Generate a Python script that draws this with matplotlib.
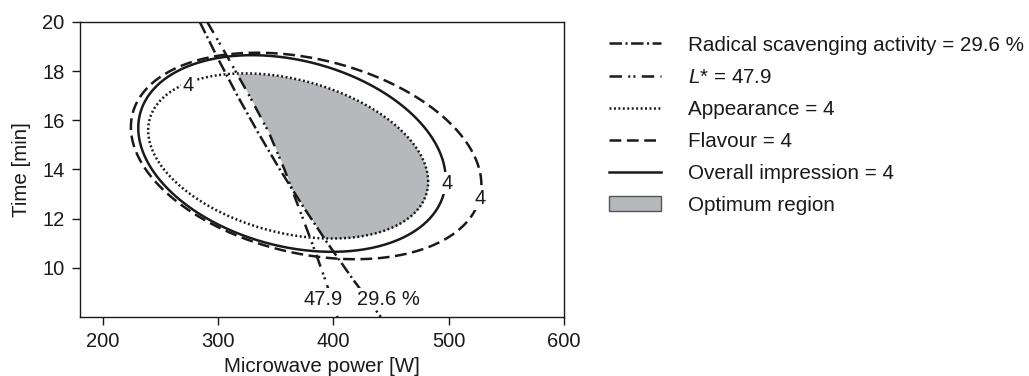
import numpy as np
import matplotlib
matplotlib.use('Agg')
import matplotlib.pyplot as plt
from matplotlib.lines import Line2D
from matplotlib.patches import Patch

plt.rcParams['font.family'] = ['Liberation Sans', 'DejaVu Sans']
plt.rcParams['mathtext.fontset'] = 'custom'
plt.rcParams['mathtext.rm'] = 'Liberation Sans'
plt.rcParams['mathtext.it'] = 'Liberation Sans:italic'
plt.rcParams['lines.scale_dashes'] = False

# contour lines (time [min] -> power [W])
radical_y = [20, 18.5, 17, 15.5, 14, 12.5, 11, 9.5, 8]
radical_x = [284, 299.9, 316.7, 334.6, 353.5, 373.6, 394.9, 417.4, 441.1]
lstar_y = [20, 18.5, 17, 15.5, 14, 12.5, 11, 9.5, 8]
lstar_x = [290.5, 309, 327, 344, 357.5, 369.5, 381.5, 393, 403.5]

# elliptic contours (= 4): centre x, centre y, half width, half height, tilt (cos phase)
appearance = [360.7, 14.55, 121.5, 3.36, -0.311]
flavour = [376.3, 14.55, 152.1, 4.2, -0.28]
overall = [364.0, 14.65, 133.4, 4.0, -0.26]

xticks = [200, 300, 400, 500, 600]
yticks = [10, 12, 14, 16, 18, 20]

ink = '#1a1a1a'
grey = '#b6b8bc'
lw = 1.8
st_radical = (0, (9, 2.5, 1.5, 2.5))
st_lstar = (0, (9, 4.5, 1.5, 2.2, 1.5, 4.5))
st_app = (0, (1.4, 1.8))
st_flav = (0, (8.5, 4))


def ellipse(p, n=600):
    cx, cy, rx, ry, cphi = p
    phi = np.arccos(cphi)
    t = np.linspace(0, 2 * np.pi, n)
    return cx + rx * np.cos(t), cy + ry * np.cos(t - phi)


def ellipse_bounds(p, y):
    cx, cy, rx, ry, cphi = p
    phi = np.arccos(cphi)
    a = np.arccos(np.clip((y - cy) / ry, -1, 1))
    x1 = cx + rx * np.cos(phi + a)
    x2 = cx + rx * np.cos(phi - a)
    return np.minimum(x1, x2), np.maximum(x1, x2)


fig = plt.figure(figsize=(10.29, 3.76), dpi=100)
ax = fig.add_axes([0.0777, 0.157, 0.4703, 0.7845])

# optimum region: inside appearance ellipse, right of both lines
yy = np.linspace(appearance[1] - appearance[3], appearance[1] + appearance[3], 800)
el, er = ellipse_bounds(appearance, yy)
lr = np.interp(yy, radical_y[::-1], radical_x[::-1])
ll = np.interp(yy, lstar_y[::-1], lstar_x[::-1])
left = np.maximum(el, np.maximum(lr, ll))
ax.fill_betweenx(yy, left, er, where=left < er, interpolate=True,
                 color=grey, lw=0, zorder=1)

ax.plot(*ellipse(appearance), color=ink, lw=lw, ls=st_app, zorder=2)
ax.plot(*ellipse(flavour), color=ink, lw=lw, ls=st_flav, zorder=2)
ax.plot(*ellipse(overall), color=ink, lw=lw, ls='-', zorder=2)
ax.plot(radical_x, radical_y, color=ink, lw=lw, ls=st_radical, zorder=3)
ax.plot(lstar_x, lstar_y, color=ink, lw=lw, ls=st_lstar, zorder=3)

box = dict(facecolor='white', edgecolor='none', pad=1.0)
lab = dict(fontsize=14.5, color=ink, ha='center', va='center', bbox=box, zorder=4)
ax.text(273.7, 17.4, '4', **lab)
ax.text(498.5, 13.45, '4', **lab)
ax.text(527.5, 12.8, '4', **lab)
ax.text(391, 8.72, '47.9', **lab)
ax.text(447.5, 8.72, '29.6 %', **lab)

ax.set_xlim(180, 600)
ax.set_ylim(8, 20)
ax.set_xticks(xticks)
ax.set_yticks(yticks)
ax.tick_params(direction='out', length=6, width=1, colors=ink, labelsize=14.5)
ax.tick_params(axis='x', pad=5)
ax.tick_params(axis='y', pad=5)
for s in ax.spines.values():
    s.set_linewidth(1)
    s.set_color(ink)
ax.set_xlabel('Microwave power [W]', fontsize=14.8, color=ink, labelpad=4)
ax.set_ylabel('Time [min]', fontsize=14.8, color=ink, labelpad=8)

handles = [
    Line2D([], [], color=ink, lw=lw, ls=st_radical),
    Line2D([], [], color=ink, lw=lw, ls=st_lstar),
    Line2D([], [], color=ink, lw=lw, ls=st_app),
    Line2D([], [], color=ink, lw=lw, ls=st_flav),
    Line2D([], [], color=ink, lw=lw, ls='-'),
    Patch(facecolor=grey, edgecolor='#555555', lw=1),
]
labels = ['Radical scavenging activity = 29.6 %', '$L$* = 47.9', 'Appearance = 4',
          'Flavour = 4', 'Overall impression = 4', 'Optimum region']
leg = fig.legend(handles, labels, loc='upper left', bbox_to_anchor=(0.592, 0.905),
                 frameon=False, fontsize=14.9, handlelength=2.5, handletextpad=1.3,
                 labelspacing=0.63, borderpad=0, borderaxespad=0)
for t in leg.get_texts():
    t.set_color(ink)

fig.savefig('out.png', dpi=100)
